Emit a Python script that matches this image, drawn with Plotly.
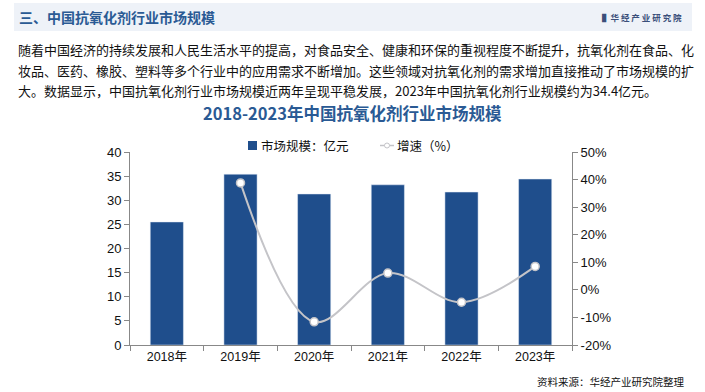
import plotly.graph_objects as go

years = ["2018年", "2019年", "2020年", "2021年", "2022年", "2023年"]
market_size = [25.5, 35.4, 31.3, 33.2, 31.7, 34.4]
growth_years = ["2019年", "2020年", "2021年", "2022年", "2023年"]
growth_pct = [38.8, -11.6, 6.1, -4.5, 8.5]

left_ticks = [0, 5, 10, 15, 20, 25, 30, 35, 40]
right_ticks = [-20, -10, 0, 10, 20, 30, 40, 50]

FONT = "Liberation Sans, Noto Sans CJK SC, sans-serif"
CJK = "Noto Sans CJK SC, sans-serif"
BLUE = "#1f4e8c"
TITLE_BLUE = "#2a5a94"
LINE_GRAY = "#c4c4c8"

fig = go.Figure()
fig.add_trace(go.Bar(
    x=years, y=market_size, name="市场规模：亿元",
    marker=dict(color=BLUE), width=0.45, yaxis="y",
))
fig.add_trace(go.Scatter(
    x=growth_years, y=growth_pct, name="增速（%）", yaxis="y2",
    mode="lines+markers", line=dict(color=LINE_GRAY, width=2, shape="spline", smoothing=1.0),
    marker=dict(color="white", size=8, line=dict(color=LINE_GRAY, width=1.5)),
))

W, H = 705, 392
l, r, t, b = 130, 133, 152, 47

fig.update_layout(
    width=W, height=H,
    margin=dict(l=l, r=r, t=t, b=b),
    paper_bgcolor="white", plot_bgcolor="white",
    font=dict(family=FONT, size=12, color="#111"),
    showlegend=False,
    xaxis=dict(type="category", categoryorder="array", categoryarray=years,
               showline=True, linecolor="#888", linewidth=1,
               ticks="outside", tickson="boundaries", ticklen=5, tickcolor="#888",
               showgrid=False, tickfont=dict(family=FONT, size=12.5, color="#111")),
    yaxis=dict(range=[0, 40], tickvals=left_ticks, showgrid=False, zeroline=False,
               showline=True, linecolor="#888", linewidth=1, ticks="outside",
               ticklen=5, tickcolor="#888", tickfont=dict(family=FONT, size=13, color="#111")),
    yaxis2=dict(range=[-20, 50], tickvals=right_ticks, ticktext=[f"{v}%" for v in right_ticks],
                overlaying="y", side="right", showgrid=False, zeroline=False,
                showline=True, linecolor="#888", linewidth=1, ticks="outside",
                ticklen=5, tickcolor="#888", tickfont=dict(family=FONT, size=13, color="#111")),
)


def px_x(x):
    return (x - l) / (W - l - r)


def px_y(y):
    return (H - b - y) / (H - t - b)


# header band
fig.add_shape(type="rect", xref="paper", yref="paper",
              x0=px_x(14), x1=px_x(692), y0=px_y(31), y1=px_y(3),
              line=dict(width=0), fillcolor="#eef2f8", layer="below")

fig.add_annotation(text="<b>三、中国抗氧化剂行业市场规模</b>", xref="paper", yref="paper",
                   x=px_x(17), y=px_y(17), xanchor="left", yanchor="middle", showarrow=False,
                   font=dict(family=CJK, size=14, color=TITLE_BLUE))
fig.add_annotation(text="<b>▌华 经 产 业 研 究 院</b>", xref="paper", yref="paper",
                   x=px_x(684), y=px_y(17), xanchor="right", yanchor="middle", showarrow=False,
                   font=dict(family=CJK, size=8.5, color="#3a4f7a"))

para = [
    "随着中国经济的持续发展和人民生活水平的提高，对食品安全、健康和环保的重视程度不断提升，抗氧化剂在食品、化",
    "妆品、医药、橡胶、塑料等多个行业中的应用需求不断增加。这些领域对抗氧化剂的需求增加直接推动了市场规模的扩",
    "大。数据显示，中国抗氧化剂行业市场规模近两年呈现平稳发展，2023年中国抗氧化剂行业规模约为34.4亿元。",
]
for i, line in enumerate(para):
    fig.add_annotation(text=line, xref="paper", yref="paper",
                       x=px_x(16), y=px_y(50 + 20 * i), xanchor="left", yanchor="middle",
                       showarrow=False, font=dict(family=CJK, size=13, color="#111"))

fig.add_annotation(text="<b>2018-2023年中国抗氧化剂行业市场规模</b>", xref="paper", yref="paper",
                   x=px_x(352), y=px_y(113), xanchor="center", yanchor="middle", showarrow=False,
                   font=dict(family=CJK, size=16.5, color=TITLE_BLUE))

# manual legend
fig.add_shape(type="rect", xref="paper", yref="paper",
              x0=px_x(248), x1=px_x(257), y0=px_y(150), y1=px_y(141),
              line=dict(width=0), fillcolor=BLUE)
fig.add_annotation(text=fig.data[0].name, xref="paper", yref="paper",
                   x=px_x(259), y=px_y(145.5), xanchor="left", yanchor="middle", showarrow=False,
                   font=dict(family=CJK, size=12.5, color="#111"))
fig.add_shape(type="line", xref="paper", yref="paper",
              x0=px_x(380), x1=px_x(394), y0=px_y(145.5), y1=px_y(145.5),
              line=dict(color=LINE_GRAY, width=1.5))
fig.add_shape(type="circle", xref="paper", yref="paper",
              x0=px_x(384.5), x1=px_x(389.5), y0=px_y(148), y1=px_y(143),
              line=dict(color=LINE_GRAY, width=1), fillcolor="white")
fig.add_annotation(text=fig.data[1].name, xref="paper", yref="paper",
                   x=px_x(395), y=px_y(145.5), xanchor="left", yanchor="middle", showarrow=False,
                   font=dict(family=CJK, size=12.5, color="#111"))

fig.add_annotation(text="资料来源：华经产业研究院整理", xref="paper", yref="paper",
                   x=px_x(686), y=px_y(381), xanchor="right", yanchor="middle", showarrow=False,
                   font=dict(family=CJK, size=10.5, color="#111"))

fig.write_html("out.html", config={"displayModeBar": False},
               post_script="document.body.style.margin='0';document.body.style.padding='0';")
